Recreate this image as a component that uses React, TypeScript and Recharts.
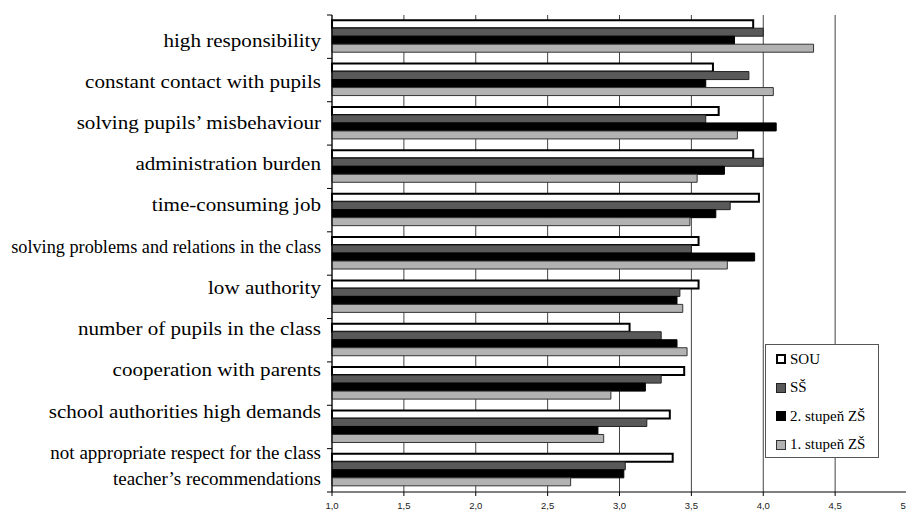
import { Bar, BarChart, CartesianGrid, Legend, XAxis, YAxis } from "recharts";

const categories = [
  "high responsibility",
  "constant contact with pupils",
  "solving pupils’ misbehaviour",
  "administration burden",
  "time-consuming job",
  "solving problems and relations in the class",
  "low authority",
  "number of pupils in the class",
  "cooperation with parents",
  "school authorities high demands",
  "not appropriate respect for the class\nteacher’s recommendations",
];

const sou = [3.93, 3.65, 3.69, 3.93, 3.97, 3.55, 3.55, 3.07, 3.45, 3.35, 3.37];
const ss = [4.0, 3.9, 3.6, 4.0, 3.77, 3.5, 3.42, 3.29, 3.29, 3.19, 3.04];
const zs2 = [3.8, 3.6, 4.09, 3.73, 3.67, 3.94, 3.4, 3.4, 3.18, 2.85, 3.03];
const zs1 = [4.35, 4.07, 3.82, 3.54, 3.49, 3.75, 3.44, 3.47, 2.94, 2.89, 2.66];

const xTicks = [1, 1.5, 2, 2.5, 3, 3.5, 4, 4.5, 5];

const series = [
  { key: "sou", name: "SOU", fill: "#ffffff", stroke: "#000000", strokeWidth: 2 },
  { key: "ss", name: "SŠ", fill: "#595959", stroke: "#222222", strokeWidth: 1 },
  { key: "zs2", name: "2. stupeň ZŠ", fill: "#000000", stroke: "#000000", strokeWidth: 1 },
  { key: "zs1", name: "1. stupeň ZŠ", fill: "#b2b2b2", stroke: "#333333", strokeWidth: 1 },
];

const data = categories.map((category, i) => ({
  category,
  sou: sou[i],
  ss: ss[i],
  zs2: zs2[i],
  zs1: zs1[i],
}));

const WIDTH = 906;
const HEIGHT = 504;
const MARGIN = { top: 7, right: 7, bottom: 0, left: 0 };
const Y_AXIS_W = 324;
const X_AXIS_H = 20;
const PLOT_H = HEIGHT - MARGIN.top - MARGIN.bottom - X_AXIS_H;
const BAND = PLOT_H / categories.length;
const LABEL_GAP = 11;
const LABEL_SIZE = 19;
const LABEL_MAX_W = 310;
const serif = '"Liberation Serif", "Times New Roman", serif';

// the serif labels are drawn a little wider than normal, long ones squeezed to fit
const canvasCtx = typeof document !== "undefined" ? document.createElement("canvas").getContext("2d") : null;
function labelWidth(s: string) {
  if (!canvasCtx) return s.length * LABEL_SIZE * 0.42;
  canvasCtx.font = `${LABEL_SIZE}px ${serif}`;
  return canvasCtx.measureText(s).width;
}

function CategoryTick(props: any) {
  const { x, y, payload, index } = props;
  const axisX = x + LABEL_GAP;
  const lines: string[] = String(payload.value).split("\n");
  const lineH = 26;
  const baseY = y + 10 - 2.16 * index;
  const widest = Math.max(...lines.map(labelWidth));
  const sx = lines.length > 1 ? 1.0 : Math.min(1.11, LABEL_MAX_W / widest);
  return (
    <g>
      <line x1={axisX - 5} x2={axisX} y1={y - BAND / 2} y2={y - BAND / 2} stroke="#000" />
      {index === categories.length - 1 && (
        <line x1={axisX - 5} x2={axisX} y1={y + BAND / 2} y2={y + BAND / 2} stroke="#000" />
      )}
      <text
        transform={`translate(${x},${baseY}) scale(${sx},1)`}
        x={0}
        y={0}
        textAnchor="end"
        fontFamily={serif}
        fontSize={LABEL_SIZE}
        fill="#000"
      >
        {lines.map((l, k) => (
          <tspan key={k} x={0} dy={k === 0 ? 0 : lineH}>
            {l}
          </tspan>
        ))}
      </text>
    </g>
  );
}

function LegendBox() {
  return (
    <div
      style={{
        width: 114,
        height: 114,
        border: "1px solid #555",
        background: "#fff",
        boxSizing: "border-box",
        padding: "0 0 0 10px",
        fontFamily: serif,
        fontSize: 15,
        color: "#000",
      }}
    >
      {series.map((s) => (
        <div key={s.key} style={{ display: "flex", alignItems: "center", height: 28.5 }}>
          <span
            style={{
              display: "inline-block",
              boxSizing: "border-box",
              width: 10,
              height: 10,
              background: s.fill,
              border: `${s.strokeWidth === 2 ? 2 : 1}px solid ${s.stroke}`,
              marginRight: 4,
            }}
          />
          <span>{s.name}</span>
        </div>
      ))}
    </div>
  );
}

export default function App() {
  return (
    <BarChart
      width={WIDTH}
      height={HEIGHT}
      data={data}
      layout="vertical"
      margin={MARGIN}
      barCategoryGap="12%"
      barGap={0}
      style={{ overflow: "visible" }}
    >
      <CartesianGrid horizontal={false} stroke="#444" />
      <XAxis
        type="number"
        domain={[1, 5]}
        ticks={xTicks}
        interval={0}
        height={X_AXIS_H}
        tickSize={4}
        tickMargin={6}
        axisLine={{ stroke: "#000" }}
        tickLine={{ stroke: "#000" }}
        tick={{ fontSize: 9.5, fontFamily: '"Liberation Sans", Arial, sans-serif', fill: "#222" }}
        tickFormatter={(v: number) => v.toFixed(1).replace(".", ",")}
      />
      <XAxis
        xAxisId="top"
        orientation="top"
        type="number"
        domain={[1, 5]}
        height={0}
        tick={false}
        tickLine={false}
        axisLine={{ stroke: "#888" }}
      />
      <YAxis
        type="category"
        dataKey="category"
        width={Y_AXIS_W}
        interval={0}
        tickLine={false}
        tickSize={0}
        tickMargin={LABEL_GAP}
        axisLine={{ stroke: "#000" }}
        tick={<CategoryTick />}
      />
      <Legend
        layout="horizontal"
        verticalAlign="middle"
        align="center"
        wrapperStyle={{ left: 757, top: 336, width: 114, height: 114 }}
        content={() => <LegendBox />}
      />
      {series.map((s) => (
        <Bar
          key={s.key}
          dataKey={s.key}
          name={s.name}
          fill={s.fill}
          stroke={s.stroke}
          strokeWidth={s.strokeWidth}
          isAnimationActive={false}
        />
      ))}
    </BarChart>
  );
}
